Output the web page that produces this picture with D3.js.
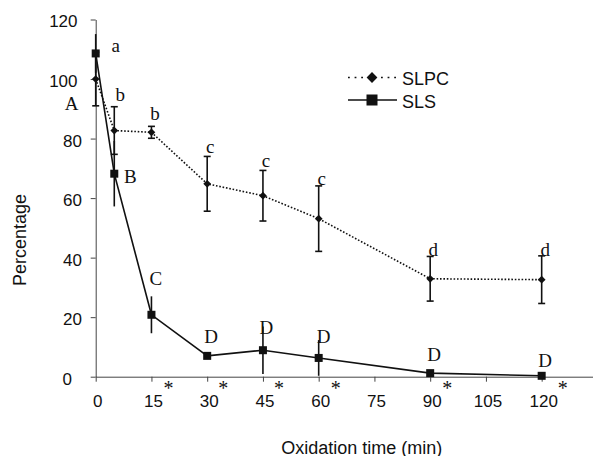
<!DOCTYPE html>
<html>
<head>
<meta charset="utf-8">
<script src="https://cdn.jsdelivr.net/npm/d3@7"></script>
<style>
  body { margin: 0; background: #fff; }
  svg text { font-family: "Liberation Sans", Arial, sans-serif; fill: #111; }
  .letter, .star { font-family: "Liberation Serif", "Times New Roman", serif; }
</style>
</head>
<body>
<svg id="chart" width="593" height="456"></svg>
<script>
// data
var times = [0, 5, 15, 30, 45, 60, 90, 120];
var slpc = [100, 82.7, 82.1, 64.8, 60.8, 53.1, 32.9, 32.6];
var slpcErr = [9, 8, 2, 9.2, 8.5, 11, 7.5, 8];
var sls = [108.6, 68.2, 20.8, 7.0, 8.9, 6.3, 1.2, 0.3];
var slsErr = [6.5, 11, 6.2, 0, 8, 6, 0, 0];
var slpcLetters = ['a', 'b', 'b', 'c', 'c', 'c', 'd', 'd'];
var slsLetters = ['A', 'B', 'C', 'D', 'D', 'D', 'D', 'D'];
var starTimes = [15, 30, 45, 60, 90, 120];
var xTicks = [0, 15, 30, 45, 60, 75, 90, 105, 120];
var yTicks = [0, 20, 40, 60, 80, 100, 120];

// letter nudges relative to each marker (layout only)
var slpcNudge = [[20, -27], [6, -29.5], [3.5, -12], [3, -31], [3, -29], [3, -34], [3, -23], [3.5, -24]];
var slsNudge = [[-24, 57], [16, 9], [4.5, -30], [4, -12.6], [3.5, -16], [5, -15], [4, -12], [3.5, -8.5]];
var starNudge = [17, 16, 16, 17, 17, 21];

var svg = d3.select('#chart');

var x = d3.scaleLinear().domain([0, 134]).range([95.7, 593.7]);
var y = d3.scaleLinear().domain([0, 120]).range([376.7, 19.5]);

var axisColor = '#444';

// y axis
var yAxis = svg.append('g')
    .attr('transform', 'translate(' + x(0) + ',0)')
    .call(d3.axisLeft(y).tickValues(yTicks).tickSize(5).tickSizeOuter(0));
yAxis.select('.domain').attr('stroke', axisColor);
yAxis.selectAll('.tick line').attr('stroke', axisColor);
yAxis.selectAll('.tick text')
    .attr('font-size', 17)
    .attr('font-family', '"Liberation Sans", Arial, sans-serif')
    .attr('fill', '#111')
    .attr('x', function (d) {
        var n = String(d).length;
        return n === 1 ? -23.7 : (n === 2 ? -13.7 : -18.2);
    })
    .attr('y', 2);

// x axis
var xAxis = svg.append('g')
    .attr('transform', 'translate(0,' + y(0) + ')')
    .call(d3.axisBottom(x).tickValues(xTicks).tickSize(5).tickSizeOuter(0));
xAxis.select('.domain').attr('stroke', axisColor);
xAxis.selectAll('.tick line').attr('stroke', axisColor);
xAxis.selectAll('.tick text')
    .attr('font-size', 17)
    .attr('font-family', '"Liberation Sans", Arial, sans-serif')
    .attr('fill', '#111')
    .attr('y', 30)
    .attr('dy', 0)
    .attr('dx', 1.5);

// axis titles
svg.append('text')
    .attr('transform', 'translate(26,240) rotate(-90)')
    .attr('text-anchor', 'middle')
    .attr('font-size', 18)
    .text('Percentage');

svg.append('text')
    .attr('x', 361.7)
    .attr('y', 453.5)
    .attr('text-anchor', 'middle')
    .attr('font-size', 18)
    .text('Oxidation time (min)');

var pts = times.map(function (t, i) {
    return { t: t, slpc: slpc[i], slpcE: slpcErr[i], sls: sls[i], slsE: slsErr[i], i: i };
});

// error bars
var ink = '#111';
var eb = svg.append('g').attr('stroke', ink).attr('stroke-width', 1.6);

eb.selectAll('line.slpc-bar').data(pts).enter().append('line')
    .attr('x1', function (d) { return x(d.t); })
    .attr('x2', function (d) { return x(d.t); })
    .attr('y1', function (d) { return y(d.slpc - d.slpcE); })
    .attr('y2', function (d) { return y(d.slpc + d.slpcE); });

[-1, 1].forEach(function (s) {
    eb.selectAll('line.cap' + s).data(pts).enter().append('line')
        .attr('x1', function (d) { return x(d.t) - 3.5; })
        .attr('x2', function (d) { return x(d.t) + 3.5; })
        .attr('y1', function (d) { return y(d.slpc + s * d.slpcE); })
        .attr('y2', function (d) { return y(d.slpc + s * d.slpcE); });
});

eb.selectAll('line.sls-bar').data(pts.filter(function (d) { return d.slsE > 0; })).enter().append('line')
    .attr('x1', function (d) { return x(d.t); })
    .attr('x2', function (d) { return x(d.t); })
    .attr('y1', function (d) { return y(d.sls - d.slsE); })
    .attr('y2', function (d) { return y(d.sls + d.slsE); });

// lines
var slpcLine = d3.line().x(function (d) { return x(d.t); }).y(function (d) { return y(d.slpc); });
var slsLine = d3.line().x(function (d) { return x(d.t); }).y(function (d) { return y(d.sls); });

svg.append('path').datum(pts)
    .attr('d', slpcLine)
    .attr('fill', 'none')
    .attr('stroke', ink)
    .attr('stroke-width', 1.6)
    .attr('stroke-dasharray', '1.6,1.8');

svg.append('path').datum(pts)
    .attr('d', slsLine)
    .attr('fill', 'none')
    .attr('stroke', ink)
    .attr('stroke-width', 1.6);

// markers
var diamond = d3.symbol().type(d3.symbolSquare);
svg.selectAll('path.dia').data(pts).enter().append('path')
    .attr('d', diamond.size(30)())
    .attr('fill', ink)
    .attr('transform', function (d) { return 'translate(' + x(d.t) + ',' + y(d.slpc) + ') rotate(45)'; });

svg.selectAll('rect.sq').data(pts).enter().append('rect')
    .attr('x', function (d) { return x(d.t) - 4; })
    .attr('y', function (d) { return y(d.sls) - 4; })
    .attr('width', 8)
    .attr('height', 8)
    .attr('fill', ink);

// significance letters
svg.selectAll('text.lc').data(pts).enter().append('text')
    .attr('class', 'letter')
    .attr('font-size', 19)
    .attr('text-anchor', 'middle')
    .attr('x', function (d) { return x(d.t) + slpcNudge[d.i][0]; })
    .attr('y', function (d) { return y(d.slpc) + slpcNudge[d.i][1]; })
    .text(function (d) { return slpcLetters[d.i]; });

svg.selectAll('text.uc').data(pts).enter().append('text')
    .attr('class', 'letter')
    .attr('font-size', 19)
    .attr('text-anchor', 'middle')
    .attr('x', function (d) { return x(d.t) + slsNudge[d.i][0]; })
    .attr('y', function (d) { return y(d.sls) + slsNudge[d.i][1]; })
    .text(function (d) { return slsLetters[d.i]; });

// asterisks under the axis
svg.selectAll('text.star').data(starTimes).enter().append('text')
    .attr('class', 'star')
    .attr('font-size', 20)
    .attr('text-anchor', 'middle')
    .attr('x', function (d, i) { return x(d) + starNudge[i]; })
    .attr('y', 395)
    .text('*');

// legend
var lg = svg.append('g');
lg.append('line')
    .attr('x1', 348).attr('x2', 397).attr('y1', 77.5).attr('y2', 77.5)
    .attr('stroke', ink).attr('stroke-width', 1.6).attr('stroke-dasharray', '1.8,4.8');
lg.append('path')
    .attr('d', d3.symbol().type(d3.symbolSquare).size(58)())
    .attr('fill', ink)
    .attr('transform', 'translate(372,77.5) rotate(45)');
lg.append('text').attr('x', 402).attr('y', 85).attr('font-size', 18).text('SLPC');

lg.append('line')
    .attr('x1', 348).attr('x2', 397).attr('y1', 100).attr('y2', 100)
    .attr('stroke', ink).attr('stroke-width', 1.6);
lg.append('rect')
    .attr('x', 366.5).attr('y', 94.5).attr('width', 11).attr('height', 11)
    .attr('fill', ink);
lg.append('text').attr('x', 402).attr('y', 107.5).attr('font-size', 18).text('SLS');
</script>
</body>
</html>
